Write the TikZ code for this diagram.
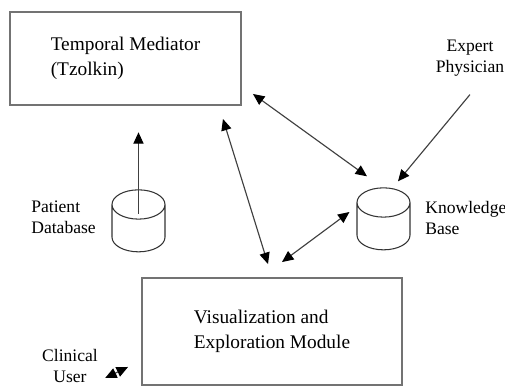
\documentclass[tikz,border=0pt]{standalone}
\usepackage{fontspec}
\setmainfont{Liberation Serif}
\usetikzlibrary{shapes.geometric,arrows.meta}

\tikzset{
  modbox/.style={draw=black!55, line width=1.1pt, minimum width=231*0.02cm,
    minimum height=93*0.02cm, align=left, font=\fontsize{11}{14.2}\selectfont},
  dbase/.style={draw=black!80, line width=0.6pt, cylinder, shape border rotate=90,
    shape aspect=2.5, minimum width=53*0.02cm, minimum height=62*0.02cm, fill=white},
  lbl/.style={align=left, inner sep=0pt, font=\fontsize{10}{12}\selectfont},
  link/.style={draw=black!75, line width=0.65pt, {Triangle[length=6.5pt,width=5.8pt,black]}-{Triangle[length=6.5pt,width=5.8pt,black]}},
  onelink/.style={draw=black!75, line width=0.65pt, -{Triangle[length=6.5pt,width=5.8pt,black]}}
}

\begin{document}
\begin{tikzpicture}[x=0.02cm, y=-0.02cm]
    % Marco
    \useasboundingbox (0,0) rectangle (505,387);

    % Modulos
    \node[modbox] (med) at (125.5,58.5) {Temporal Mediator\\(Tzolkin)};
    \node[modbox, minimum width=260*0.02cm, minimum height=107*0.02cm] (vis) at (272,331.5)
        {Visualization and\\Exploration Module};

    % Bases de datos
    \node[dbase] (pdb) at (138.5,233) {};
    \node[dbase] (kb) at (383.5,231) {};

    % Etiquetas
    \node[lbl, anchor=west] (pdbl) at (31,217) {Patient\\Database};
    \node[lbl, anchor=west] (kbl) at (425,218) {Knowledge\\Base};
    \node[lbl, align=center] (exp) at (470,58) {Expert\\Physician};
    \node[lbl, align=center] (clin) at (70,366) {Clinical\\User};

    % Flechas
    \draw[onelink] ([yshift=-14]pdb.north) -- ([yshift=-15]med.south -| pdb.north);
    \draw[link] ([shift={(11,-12)}]med.south east) -- ([shift={(-16.5,-11)}]kb.north);
    \draw[onelink] ([shift={(0,18)}]exp.south) -- ([shift={(14.5,-6)}]kb.north);
    \draw[link] ([shift={(-19,13)}]med.south east) -- ([shift={(-4,-13)}]vis.north);
    \draw[link] ([shift={(-7,-19)}]kb.west) -- ([shift={(10,-15)}]vis.north);
    \draw[link] ([shift={(7,12)}]clin.east) -- ([shift={(-13,-19)}]vis.south west);
\end{tikzpicture}
\end{document}
